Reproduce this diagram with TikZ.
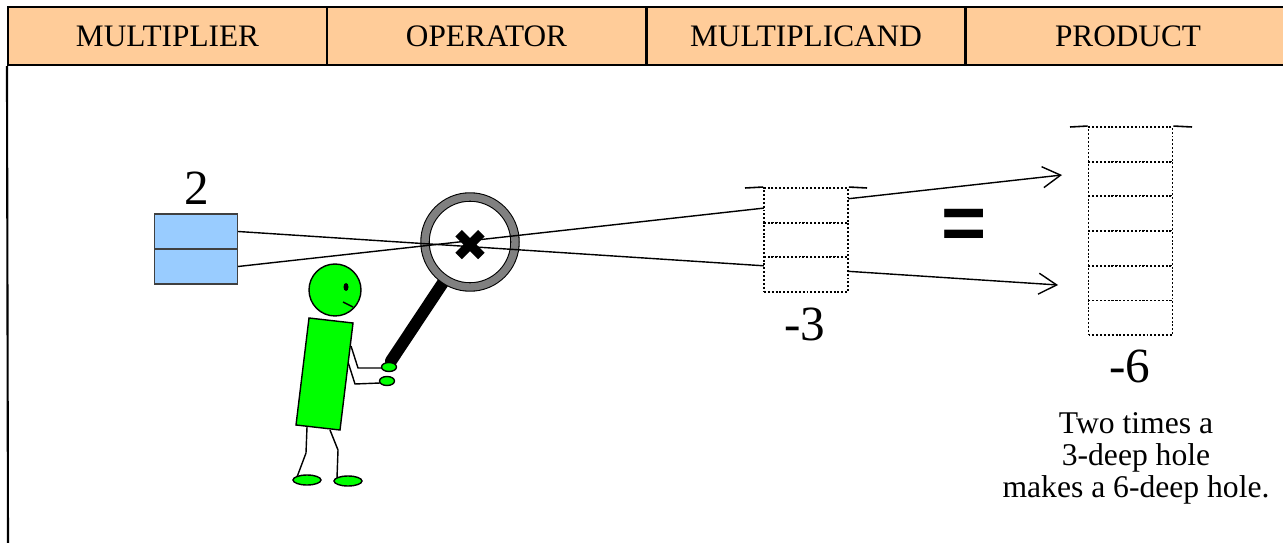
\documentclass[tikz,border=0pt]{standalone}
\usepackage{fontspec}
\setmainfont{Liberation Serif}
\newfontfamily\signfont{Liberation Sans}
\newfontfamily\crossfont[FakeBold=12]{DejaVu Sans Bold}
\usetikzlibrary{arrows.meta}

\definecolor{headfill}{HTML}{FFCC99}
\definecolor{multblue}{HTML}{99CCFF}
\definecolor{figgreen}{HTML}{00FF00}
\definecolor{lensgray}{HTML}{808080}

\begin{document}
\begin{tikzpicture}[
  x=0.02cm, y=-0.02cm,
  colhead/.style={rectangle, draw, line width=1.2pt, fill=headfill, minimum width=6.38cm, minimum height=1.16cm, inner sep=0pt, font=\fontsize{17.8}{20}\selectfont},
  border/.style={line width=1.2pt},
  multcell/.style={rectangle, draw=black!75, line width=0.7pt, fill=multblue, minimum width=1.66cm, minimum height=0.70cm},
  hole/.style={rectangle, draw, line width=1.1pt, dash pattern=on 1.1pt off 1.1pt, fill=white, minimum width=1.68cm, minimum height=0.694cm},
  lid/.style={line width=0.9pt},
  num/.style={anchor=base, inner sep=0pt, font=\fontsize{28}{30}\selectfont},
  arr/.style={-{Straight Barb[length=0.36cm, width=0.42cm]}, line width=0.8pt},
  lens/.style={circle, draw=black, line width=0.6pt, double=lensgray, double distance=4.2pt, fill=white, minimum size=1.8cm, inner sep=0pt},
  handle/.style={line width=6.8pt, line cap=round},
  skin/.style={draw, line width=0.8pt, fill=figgreen},
  limb/.style={line width=0.8pt},
]
\useasboundingbox (0,0) rectangle (1283,543);

% column headings
\node[colhead] (colmult)  at (167.5,36) {MULTIPLIER};
\node[colhead] (colop)    at (486.5,36) {OPERATOR};
\node[colhead] (colcand)  at (806,36)   {MULTIPLICAND};
\node[colhead, minimum width=6.5cm] (colprod) at (1128,36) {PRODUCT};
\coordinate (frameend) at (8,543);
\draw[border] (colmult.south west) -- (frameend);

% the multiplier: two blocks
\node[multcell] (mult1) at (196,231.5) {};
\node[multcell] (mult2) at (196,266.5) {};
\node[num] (two) at (197,205) {2};

% magnifying glass
\coordinate (lenscentre) at (470,242);
\coordinate (grip) at (391,361);
\draw[handle] (lenscentre) -- (grip);
\node[lens] (lens) at (lenscentre) {};

% stick figure holding the glass
\draw[limb] (307,427) -- (306,453) -- (297,477);
\draw[limb] (330,430) -- (338,450) -- (337,478);
\draw[limb] (351,346) -- (358,368) -- (383,368);
\draw[limb] (348,362) -- (355,384) -- (380,383);
\filldraw[skin] (309,318) -- (353,323) -- (340,430) -- (296,425) -- cycle;
\node[circle, skin, minimum size=1.04cm, inner sep=0pt] (face) at (335,290) {};
\fill (346,287) ellipse [x radius=0.05cm, y radius=0.08cm];
\draw[limb] (343,302) -- (353,307);
\filldraw[skin] (389,367) ellipse [x radius=0.15cm, y radius=0.09cm];
\filldraw[skin] (387,381) ellipse [x radius=0.15cm, y radius=0.09cm];
\filldraw[skin] (307,480) ellipse [x radius=0.28cm, y radius=0.1cm];
\filldraw[skin] (348,481) ellipse [x radius=0.28cm, y radius=0.1cm];

% sight lines through the glass
\coordinate (aimhi) at (1062,175);
\coordinate (aimlo) at (1058,285);
\draw[arr] (mult1.east) -- (aimlo);
\draw[arr] (mult2.east) -- (aimhi);
\node (times) at (470,245) {\crossfont\fontsize{22}{22}\selectfont ×};

% the multiplicand: a 3-deep hole
\foreach \i in {1,2,3}
  \node[hole] (three\i) at (806,{205.35+34.7*(\i-1)}) {};
\coordinate (lid3l) at (745,188);
\coordinate (lid3r) at (867,188);
\draw[lid] (lid3l) -- (three1.north west);
\draw[lid] (three1.north east) -- (lid3r);
\node[num] (minusthree) at (805,340) {-3};

\node (equals) at (964,229) {\signfont\bfseries\fontsize{44}{44}\selectfont =};

% the product: a 6-deep hole
\foreach \i in {1,...,6}
  \node[hole] (six\i) at (1130.5,{144.35+34.7*(\i-1)}) {};
\coordinate (lid6l) at (1070,127);
\coordinate (lid6r) at (1192,127);
\draw[lid] (lid6l) -- (six1.north west);
\draw[lid] (six1.north east) -- (lid6r);
\node[num] (minussix) at (1130,382) {-6};
\node[anchor=north, inner sep=0pt, align=center, font=\fontsize{18}{18.2}\selectfont] (note) at (1136,412)
  {Two times a\\3-deep hole\\makes a 6-deep hole.};
\end{tikzpicture}
\end{document}
